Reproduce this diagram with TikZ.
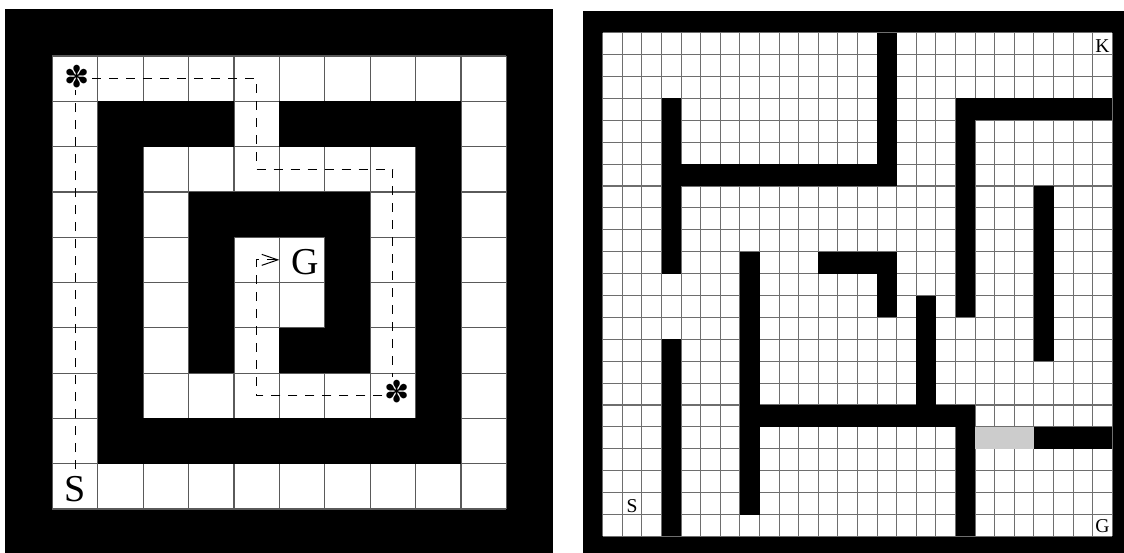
\documentclass[tikz,border=0pt]{standalone}
\usepackage{fontspec}
\setmainfont{Liberation Serif}
\newfontfamily\dingfont{DejaVu Sans}
\usepackage{tikz}
\usetikzlibrary{arrows.meta}
\definecolor{lattice}{RGB}{90,90,90}
\definecolor{finelattice}{RGB}{110,110,110}
\definecolor{keyshade}{RGB}{204,204,204}

\begin{document}
\begin{tikzpicture}[
    x=0.5pt, y=-0.5pt,
    wall/.style={fill=black},
    cellline/.style={draw=lattice, line width=0.6pt},
    fineline/.style={draw=finelattice, line width=0.55pt},
    route/.style={draw, line width=0.5pt, dash pattern=on 4.5pt off 4pt},
    bigmark/.style={font=\fontsize{19}{19}\selectfont},
    smallmark/.style={font=\fontsize{9.8}{10}\selectfont, inner sep=0pt},
    starmark/.style={font=\dingfont\fontsize{15}{15}\selectfont, inner sep=1pt},
]
\useasboundingbox (0,0) rectangle (1124,552);
\clip (0,0) rectangle (1124,552);
\fill[white] (0,0) rectangle (1124,552);

% left maze (spiral)
\fill[wall] (5.3,9.3) rectangle (553,556);
\begin{scope}[shift={(52.3,56)}, x=22.7pt, y=-22.65pt]
\fill[white] (0,0) rectangle (10,10);
\foreach \i in {0,...,10} {
    \draw[cellline] (\i,0) -- (\i,10);
    \draw[cellline] (0,\i) -- (10,\i);
}
\foreach \c/\r/\w/\h in {1/1/3/1, 5/1/4/1, 1/1/1/8, 1/8/8/1, 8/1/1/8,
                         3/3/4/1, 3/3/1/4, 6/3/1/4, 5/6/2/1}
    \fill[wall] (\c,\r) rectangle ++(\w,\h);

\node[bigmark] (start) at (0.5,9.56) {S};
\node[bigmark] (goal) at (5.58,4.55) {G};
\node[starmark] (turn1) at (0.55,0.45) {✽};
\node[starmark] (turn2) at (7.6,7.4) {✽};
\coordinate (corner1) at (0.5,0.5);
\coordinate (corner2) at (7.5,7.5);
\coordinate (bendtop) at (4.5,2.5);
\coordinate (bendmid) at (4.5,4.5);
\coordinate (entry) at (5,4.5);

\draw[route] (start) -- (start |- turn1.south);
\draw[route] (turn1.east |- corner1) -| (bendtop) -| (turn2.north -| corner2);
\draw[route, -{Straight Barb[length=8pt, width=5.5pt]}]
    (turn2.west |- corner2) -| (bendmid) -- (entry);
\end{scope}

% right maze (open rooms)
\fill[wall] (582.7,10.7) rectangle (1132,558);
\begin{scope}[shift={(602.7,32.7)}, x=9.8pt, y=-10.95pt]
\fill[white] (0,0) rectangle (26,23);
\foreach \i in {0,...,26}
    \draw[fineline] (\i,0) -- (\i,23);
\foreach \j in {0,...,23}
    \draw[fineline] (0,\j) -- (26,\j);
\fill[keyshade] (19,18) rectangle ++(3,1);
\foreach \c/\r/\w/\h in {3/3/1/8, 3/6/12/1, 14/0/1/7, 3/14/1/9, 7/10/1/12,
                         11/10/4/1, 14/10/1/3, 18/3/8/1, 18/3/1/10, 22/7/1/8,
                         16/12/1/6, 7/17/12/1, 18/17/1/6, 22/18/4/1}
    \fill[wall] (\c,\r) rectangle ++(\w,\h);

\node[smallmark] (keycell) at (25.5,0.6) {K};
\node[smallmark] (startcell) at (1.5,21.6) {S};
\node[smallmark] (goalcell) at (25.5,22.55) {G};
\end{scope}
\end{tikzpicture}
\end{document}
